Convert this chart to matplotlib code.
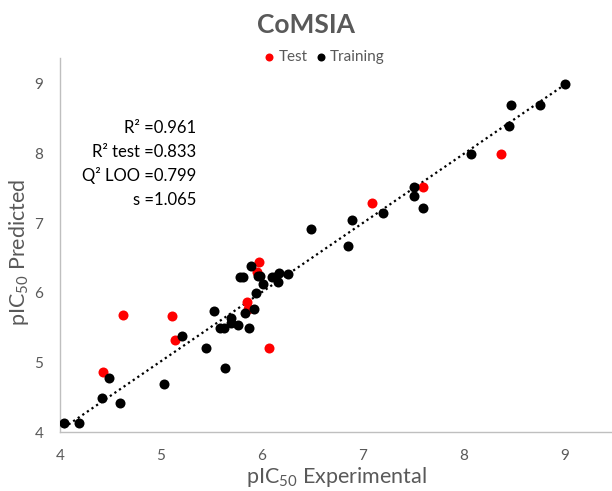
import numpy as np
import matplotlib
matplotlib.use("Agg")
import matplotlib.pyplot as plt

plt.rcParams['font.family'] = ['Lato', 'DejaVu Sans']
plt.rcParams['mathtext.default'] = 'regular'

train_x = [4.04, 4.19, 4.42, 4.49, 4.59, 5.03, 5.21, 5.45, 5.53, 5.64, 5.59, 5.63, 5.69, 5.69,
           5.76, 5.87, 5.83, 5.92, 5.94, 6.01, 5.78, 5.81, 5.89, 5.96, 5.98, 6.10, 6.13, 6.17,
           6.16, 6.26, 6.49, 6.85, 6.89, 7.20, 7.51, 7.51, 7.60, 8.07, 8.45, 8.47, 8.76, 9.00]
train_y = [4.13, 4.13, 4.49, 4.78, 4.41, 4.69, 5.38, 5.21, 5.74, 4.92, 5.49, 5.49, 5.64, 5.57,
           5.53, 5.49, 5.71, 5.77, 6.00, 6.13, 6.22, 6.22, 6.39, 6.24, 6.24, 6.22, 6.22, 6.29,
           6.16, 6.27, 6.92, 6.67, 7.04, 7.15, 7.52, 7.39, 7.22, 7.99, 8.39, 8.69, 8.69, 9.00]
test_x = [4.43, 4.62, 5.11, 5.14, 5.85, 5.86, 5.95, 5.97, 6.07, 7.09, 7.60, 8.37]
test_y = [4.86, 5.68, 5.66, 5.32, 5.86, 5.77, 6.30, 6.44, 5.21, 7.29, 7.52, 7.99]

stats_labels = ["R\u00b2 =0.961", "R\u00b2 test =0.833", "Q\u00b2 LOO =0.799", "s =1.065"]
xticks = [4, 5, 6, 7, 8, 9]
yticks = [4, 5, 6, 7, 8, 9]

GRAY = '#595959'

fig = plt.figure(figsize=(6.12, 4.91), dpi=100)
ax = fig.add_axes([60/612, 59/491, 552/612, 374/491])

ax.scatter(test_x, test_y, s=52, color='#FF0000', zorder=3, label='Test', linewidths=0)
ax.scatter(train_x, train_y, s=52, color='black', zorder=4, label='Training', linewidths=0)

# linear trendline of training set
coef = np.polyfit(train_x, train_y, 1)
lx = np.array([min(train_x), max(train_x)])
ax.plot(lx, np.polyval(coef, lx), color='black', linestyle=(0, (1, 1.5)), linewidth=1.6, zorder=2)

ax.set_xlim(4, 9.47)
ax.set_ylim(4, 9.37)
ax.set_xticks(xticks)
ax.set_yticks(yticks)
ax.tick_params(length=0, labelsize=11, labelcolor=GRAY, pad=12)
for s in ['top', 'right']:
    ax.spines[s].set_visible(False)
for s in ['left', 'bottom']:
    ax.spines[s].set_color('#BFBFBF')
    ax.spines[s].set_linewidth(1.0)

fig.text(336/612, 1 - 477/491, r'pIC$_{50}$ Experimental', ha='center', va='center',
         fontsize=15.5, color=GRAY)
fig.text(19/612, 1 - 252/491, r'pIC$_{50}$ Predicted', ha='center', va='center',
         fontsize=15.5, color=GRAY, rotation=90)

fig.text(0.5, 1 - 25/491, 'CoMSIA', ha='center', va='center', fontsize=19, fontweight='bold', color=GRAY)

leg = ax.legend(loc='center', bbox_to_anchor=(324/612, (491-57)/491), bbox_transform=fig.transFigure,
                ncol=2, frameon=False, fontsize=11, handletextpad=0.2, columnspacing=0.5,
                handlelength=0.8, markerscale=0.8, borderpad=0)
for t in leg.get_texts():
    t.set_color(GRAY)

for i, lab in enumerate(stats_labels):
    fig.text(196/612, 1 - (128 + 24*i)/491, lab, ha='right', va='center', fontsize=12, color='black')

fig.savefig('out.png', dpi=100)
